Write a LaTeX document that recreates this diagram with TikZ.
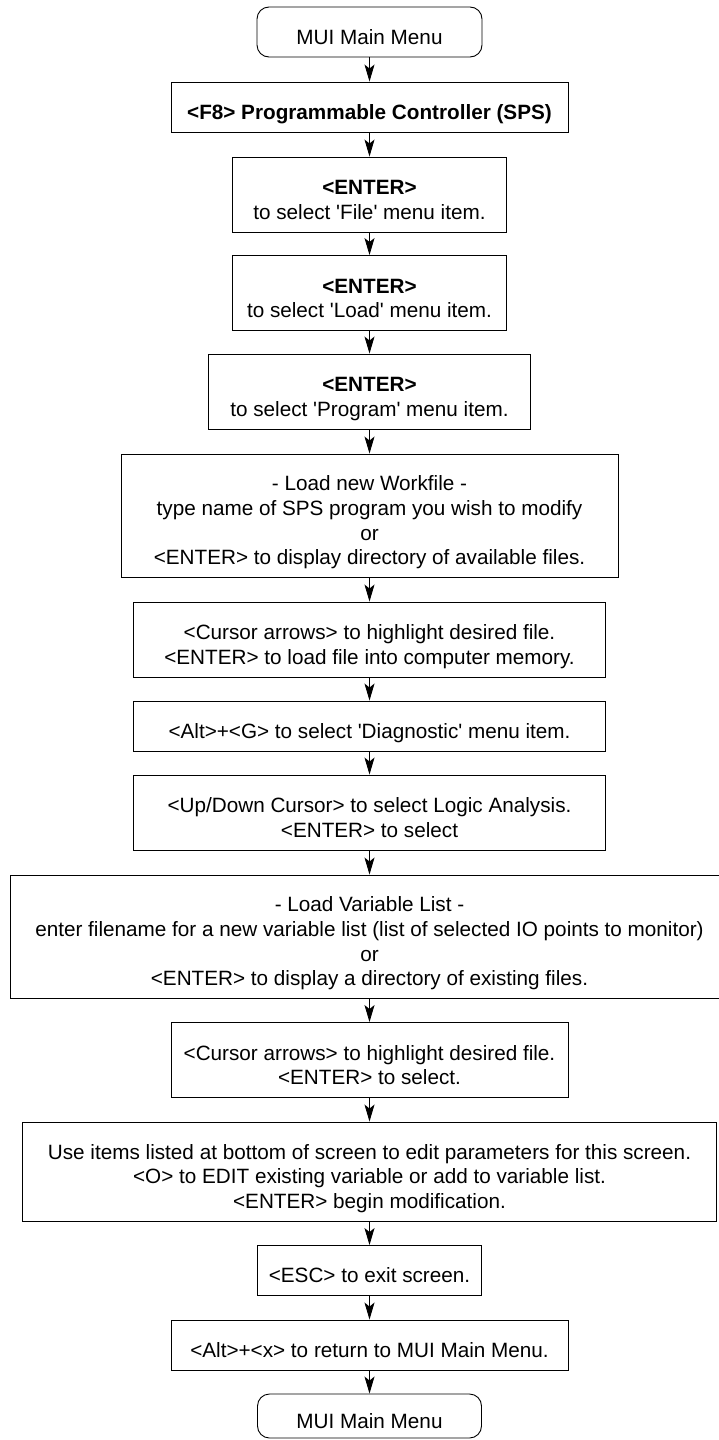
\documentclass[tikz,border=0pt]{standalone}
\usepackage{fontspec}
\setmainfont{Liberation Sans}
\usetikzlibrary{arrows.meta}
% one line slot: every text line is 24.6pt high with its baseline at the bottom
\newcommand\ls[1]{\rule{0pt}{24.6pt}\smash{#1}}
\newcommand\sq{\textquotesingle}
\begin{document}
\begin{tikzpicture}[x=1pt,y=-1pt,
  box/.style n args={2}{draw=black, line width=0.9pt, inner sep=0pt,
    align=center, minimum width=#1, minimum height=#2,
    font=\fontsize{20.7}{24.6}\selectfont},
  menu/.style={rounded corners=12pt},
  arr/.style={-{Stealth[length=17pt,width=10pt,inset=4pt]}, line width=0.9pt}]
\useasboundingbox (0,0) rectangle (719,1440);

\node[box={225pt}{50pt}, menu] (m1) at (369.5,32) {\ls{MUI Main Menu}};
\node[box={397pt}{50pt}] (f8) at (369.5,107)
  {\ls{\bfseries <F8> Programmable Controller (SPS)}};
\node[box={274pt}{75pt}] (file) at (369.5,194.5)
  {\ls{\bfseries <ENTER>}\\\ls{to select \sq File\sq{} menu item.}};
\node[box={274pt}{75pt}] (load) at (369.5,293)
  {\ls{\bfseries <ENTER>}\\\ls{to select \sq Load\sq{} menu item.}};
\node[box={322pt}{75pt}] (prog) at (369.5,391.5)
  {\ls{\bfseries <ENTER>}\\\ls{to select \sq Program\sq{} menu item.}};
\node[box={497pt}{123pt}] (work) at (369.5,515.5)
  {\ls{- Load new Workfile -}\\
   \ls{type name of SPS program you wish to modify}\\
   \ls{or}\\
   \ls{<ENTER> to display directory of available files.}};
\node[box={472pt}{75pt}] (cur1) at (369.5,639.5)
  {\ls{<Cursor arrows> to highlight desired file.}\\
   \ls{<ENTER> to load file into computer memory.}};
\node[box={472pt}{50pt}] (altg) at (369.5,726)
  {\ls{<Alt>+<G> to select \sq Diagnostic\sq{} menu item.}};
\node[box={472pt}{75pt}] (updn) at (369.5,812.5)
  {\ls{<Up/Down Cursor> to select Logic Analysis.}\\
   \ls{<ENTER> to select}};
\node[box={719pt}{123pt}] (var) at (369.5,936.5)
  {\ls{- Load Variable List -}\\
   \ls{enter filename for a new variable list (list of selected IO points to monitor)}\\
   \ls{or}\\
   \ls{<ENTER> to display a directory of existing files.}};
\node[box={397pt}{75pt}] (cur2) at (369.5,1060)
  {\ls{<Cursor arrows> to highlight desired file.}\\
   \ls{<ENTER> to select.}};
\node[box={694pt}{99pt}] (use) at (369.5,1171.5)
  {\ls{Use items listed at bottom of screen to edit parameters for this screen.}\\
   \ls{<O> to EDIT existing variable or add to variable list.}\\
   \ls{<ENTER> begin modification.}};
\node[box={224pt}{50pt}] (esc) at (369.5,1270.5) {\ls{<ESC> to exit screen.}};
\node[box={397pt}{50pt}] (altx) at (369.5,1345)
  {\ls{<Alt>+<x> to return to MUI Main Menu.}};
\node[box={224pt}{44pt}, menu] (m2) at (369.5,1416) {\ls{MUI Main Menu}};

\foreach \a/\b in {m1/f8, f8/file, file/load, load/prog, prog/work, work/cur1,
  cur1/altg, altg/updn, updn/var, var/cur2, cur2/use, use/esc, esc/altx, altx/m2}
  \draw[arr] (\a) -- (\b);
\end{tikzpicture}
\end{document}
